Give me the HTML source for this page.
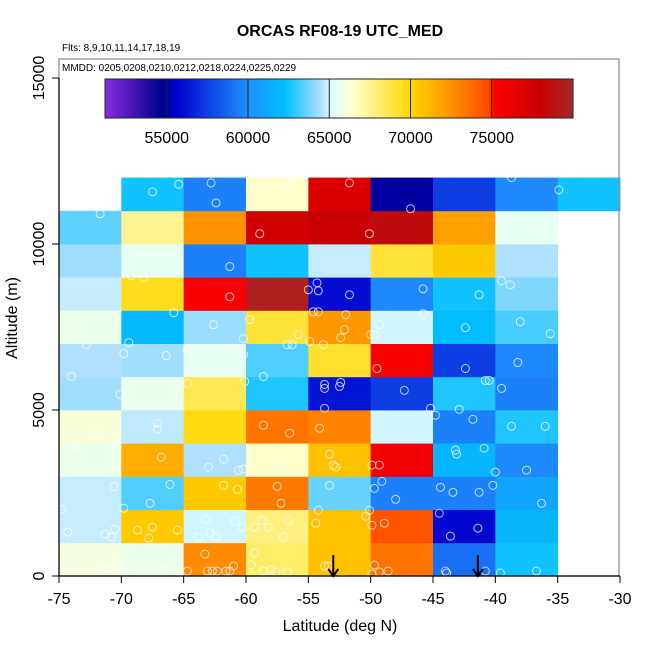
<!DOCTYPE html>
<html><head><meta charset="utf-8"><style>
html,body{margin:0;padding:0;background:#fff;}
svg{display:block;font-family:"Liberation Sans",Arial,sans-serif;}
</style></head><body>
<svg id="chart" width="650" height="650" viewBox="0 0 650 650" xmlns="http://www.w3.org/2000/svg">
<defs><linearGradient id="cbgrad" x1="0" x2="1" y1="0" y2="0"></linearGradient></defs>
<text x="340" y="36" text-anchor="middle" font-size="16" font-weight="bold">ORCAS RF08-19 UTC_MED</text>
<text x="62" y="51" font-size="10">Flts: 8,9,10,11,14,17,18,19</text>
<g id="cells"></g>
<g id="points"></g>
<rect x="59" y="59" width="560" height="517" fill="none" stroke="#888" stroke-width="1.2"/>
<text x="62" y="71" font-size="10">MMDD: 0205,0208,0210,0212,0218,0224,0225,0229</text>
<g id="colorbar"></g>
<g id="axes"></g>
<text x="340" y="631" text-anchor="middle" font-size="16">Latitude (deg N)</text>
<text transform="translate(17,318) rotate(-90)" text-anchor="middle" font-size="16">Altitude (m)</text>
</svg>
<script>
// Data
const latBins = [-75,-70,-65,-60,-55,-50,-45,-40,-35];
const altBins = [0,1000,2000,3000,4000,5000,6000,7000,8000,9000,10000,11000];
// rows bottom (0-1000) to top (11000-12000); null = no data
const row0  = [66000,65700,72800,68200,70800,73500,59000,62500,null];
const row1  = [64800,70500,65000,67800,70800,74500,55800,61800,null];
const row2  = [64800,63300,70500,73300,63600,59500,59500,61000,null];
const row3  = [65700,71500,64500,66500,70800,75800,61800,59800,null];
const row4  = [66200,64700,69700,73500,73000,65000,59500,62700,null];
const row5  = [64300,65700,68600,62700,56200,57500,62700,59500,null];
const row6  = [64500,64300,65500,63300,69200,75500,57500,59800,null];
const row7  = [65700,62000,64200,69000,72300,65000,62200,63200,null];
const row8  = [64800,69500,75500,79500,56000,59800,62500,63900,null];
const row9  = [64300,65500,59500,62500,64800,69000,70500,64500,null];
const row10 = [63500,67500,72500,77500,78000,78500,72000,65500,null];
const row11 = [null,62500,59500,66500,77000,55000,57500,59800,62500];
const gridRows = [row0,row1,row2,row3,row4,row5,row6,row7,row8,row9,row10,row11];
const cbTicks = [55000,60000,65000,70000,75000];
const cbMin = 51200, cbMax = 80000;
const xTicks = [-75,-70,-65,-60,-55,-50,-45,-40,-35,-30];
const yTicks = [0,5000,10000,15000];
const ptLat = [-65.4,-67.5,-62.8,-62.4,-57.0,-56.3,-51.7,-71.7,-58.9,-50.1,-61.3,-69.2,-68.2,-61.3,-55.0,-54.3,-54.2,-51.7,-65.8,-73.7,-62.6,-72.8,-69.4,-59.7,-60.2,-55.8,-56.7,-56.3,-54.6,-54.2,-52.0,-52.1,-52.4,-54.9,-53.8,-69.8,-66.4,-64.7,-61.0,-60.2,-58.6,-74.0,
-46.8,-38.7,-34.9,-39.5,-38.8,-45.8,-41.3,-45.8,-49.3,-50.0,-49.7,-42.4,-38.0,-35.6,-49.5,-42.4,-38.2,
-70.1,-64.7,-60.1,-53.7,-53.7,-52.5,-52.4,-53.7,-72.3,-67.1,-67.1,-70.4,-58.6,-56.5,-54.1,-73.6,-66.8,-70.4,-61.8,-63.0,-60.6,-60.2,-57.4,-53.3,-53.0,-52.8,-70.6,-66.1,-67.7,-69.8,-61.8,-60.7,-57.5,-57.2,-53.3,-74.8,-54.2,-54.4,-74.3,-71.3,-70.8,-70.5,-68.7,-67.5,-67.8,-65.5,-63.2,-62.9,-63.8,-62.4,-60.9,-60.3,-59.3,-58.7,-58.2,-56.6,-57.0,-63.3,-59.3,-59.6,-71.2,-71.1,-70.1,-70.0,-68.3,-67.5,-66.6,-64.7,-63.1,-62.7,-62.3,-61.6,-61.3,-61.0,-58.6,-58.0,-57.6,-56.7,-53.7,-53.4,-74.9,
-47.3,-45.2,-44.8,-42.9,-41.8,-40.8,-40.5,-39.5,-38.7,-36.0,-43.2,-43.1,-40.9,-40.0,-37.5,-49.9,-49.3,-49.1,-49.7,-48.0,-44.4,-43.4,-41.3,-40.2,-36.3,-50.1,-50.4,-49.9,-48.9,-44.5,-43.6,-41.4,-49.7,-49.9,-49.3,-48.6,-44.0,-43.9,-40.8,-39.6,-36.7];
const ptAlt = [11800,11570,11840,11240,11690,11870,11840,10910,10310,10310,9320,9040,8990,8410,8620,8830,8590,8470,7930,7570,7570,6970,7030,7720,7150,7270,6970,6970,7960,7960,7870,7420,7180,7060,6970,6700,6640,6820,6730,6670,6010,6010,
11060,12000,11630,8890,8770,8650,8470,7900,7570,7270,7270,7480,7660,7300,6250,6250,6430,
5470,5800,5860,5770,5650,5710,5830,5050,4300,4600,4420,4060,4540,4300,4450,3910,3580,3280,3520,3280,3190,3220,3370,3670,3340,3280,2700,2760,2190,2040,2730,2610,2700,2190,2730,2010,1980,1590,1320,1260,1170,1410,1380,1470,1140,1380,1710,1290,1170,1170,1650,1470,1470,1680,1470,1680,1170,660,690,330,240,210,390,150,180,150,180,150,150,150,150,150,150,300,150,180,120,120,300,300,120,
5590,5050,4840,5020,4720,5890,5890,5650,4510,4510,3790,3670,3850,3130,3190,3340,3340,2850,2640,2310,2670,2520,2520,2730,2190,1980,1800,1530,1590,1890,1200,1440,330,60,120,150,150,90,150,90,150];
const arrowLat = [-53.0,-41.4];

const NS='http://www.w3.org/2000/svg';
const X0=59, X1=620, Y0=576, PXPERM=498/15000;
function xs(lat){return X0+(lat+75)*(X1-X0)/45;}
function ys(alt){return Y0-alt*PXPERM;}
const stops=[[51200,[138,43,226]],[54700,[0,0,139]],[55600,[0,0,205]],[60000,[30,144,255]],[62300,[0,191,255]],[64500,[176,224,255]],[65200,[224,255,255]],[66500,[255,255,204]],[70000,[255,215,0]],[72700,[255,140,0]],[74950,[255,69,0]],[75050,[255,0,0]],[78000,[200,0,0]],[80000,[165,42,42]]];
function col(v){
  if(v<=stops[0][0]) return 'rgb('+stops[0][1]+')';
  for(let i=1;i<stops.length;i++){
    if(v<=stops[i][0]){const a=stops[i-1],b=stops[i],t=(v-a[0])/(b[0]-a[0]);
      return 'rgb('+a[1].map((c,k)=>Math.round(c+(b[1][k]-c)*t)).join(',')+')';}
  }
  return 'rgb('+stops[stops.length-1][1]+')';
}
function mk(tag,attrs,parent){const e=document.createElementNS(NS,tag);for(const k in attrs)e.setAttribute(k,attrs[k]);parent.appendChild(e);return e;}

const cells=document.getElementById('cells');
gridRows.forEach((row,ri)=>{row.forEach((v,ci)=>{
  if(v===null) return;
  const a=altBins[ri], l=latBins[ci];
  const r=mk('rect',{x:xs(l),y:ys(a+1000),width:xs(l+5)-xs(l)+0.4,height:ys(a)-ys(a+1000)+0.4,fill:col(v)},cells);
  
  
});});

const pts=document.getElementById('points');
ptLat.forEach((la,i)=>{
  const c=mk('circle',{cx:xs(la),cy:ys(ptAlt[i]),r:4,fill:'none',stroke:'#fff','stroke-opacity':0.75,'stroke-width':1},pts);
  
  
});

// colorbar
const grad=document.getElementById('cbgrad');
for(let v=cbMin; v<=cbMax; v+=200){
  mk('stop',{offset:((v-cbMin)/(cbMax-cbMin)).toFixed(4),'stop-color':col(v)},grad);
}
const cb=document.getElementById('colorbar');
const CB0=105, CB1=573;
const cbx=v=>CB0+(v-cbMin)*(CB1-CB0)/(cbMax-cbMin);
const cbr=mk('rect',{x:CB0,y:79,width:CB1-CB0,height:39,fill:'url(#cbgrad)',stroke:'#222','stroke-width':1},cb);


cbTicks.forEach(t=>{
  const ln=mk('line',{x1:cbx(t),x2:cbx(t),y1:79,y2:118,stroke:'#222','stroke-width':1},cb);
  
  
  const tx=mk('text',{x:cbx(t),y:143,'text-anchor':'middle','font-size':16},cb);
  tx.textContent=t;
  
  
});

// axes
const ax=document.getElementById('axes');
mk('line',{x1:xs(-75),x2:xs(-30),y1:Y0,y2:Y0,stroke:'#000','stroke-width':1.2},ax);
xTicks.forEach(t=>{
  mk('line',{x1:xs(t),x2:xs(t),y1:Y0,y2:Y0+7,stroke:'#000','stroke-width':1},ax);
  const tx=mk('text',{x:xs(t),y:604,'text-anchor':'middle','font-size':16},ax);
  tx.textContent=t;
  
  
});
mk('line',{x1:X0,x2:X0,y1:ys(0),y2:ys(15000),stroke:'#000','stroke-width':1.2},ax);
yTicks.forEach(t=>{
  mk('line',{x1:X0-7,x2:X0,y1:ys(t),y2:ys(t),stroke:'#000','stroke-width':1},ax);
  const tx=mk('text',{transform:'translate(44,'+ys(t)+') rotate(-90)','text-anchor':'middle','font-size':16},ax);
  tx.textContent=t;
  
  
});
arrowLat.forEach(la=>{
  const g=mk('g',{stroke:'#000','stroke-width':2,fill:'none'},ax);
  
  
  mk('line',{x1:xs(la),x2:xs(la),y1:555,y2:576},g);
  mk('polyline',{points:(xs(la)-5)+',569 '+xs(la)+',576 '+(xs(la)+5)+',569'},g);
});
</script>
</body></html>
